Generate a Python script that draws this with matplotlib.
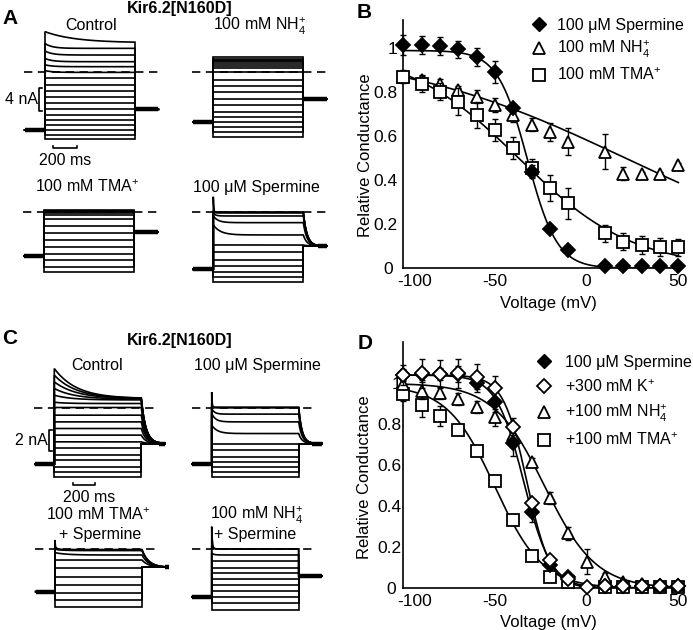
import numpy as np
import matplotlib
matplotlib.use("Agg")
import matplotlib.pyplot as plt
from matplotlib.lines import Line2D
from matplotlib.transforms import ScaledTranslation

plt.rcParams['font.family'] = ['Liberation Sans', 'DejaVu Sans']
plt.rcParams['mathtext.fontset'] = 'custom'
plt.rcParams['mathtext.rm'] = 'Liberation Sans'
plt.rcParams['mathtext.it'] = 'Liberation Sans:italic'
plt.rcParams['mathtext.bf'] = 'Liberation Sans:bold'
plt.rcParams['axes.unicode_minus'] = False
plt.rcParams['lines.scale_dashes'] = False

# ------------------------------------------------------------------ data
# Panel B : relative conductance vs voltage
volt_B = [-100, -90, -80, -70, -60, -50, -40, -30, -20, -10, 10, 20, 30, 40, 50]
B_sperm = [1.015, 1.015, 1.01, 0.995, 0.96, 0.894, 0.727, 0.44, 0.177, 0.083, 0.01, 0.01, 0.01, 0.01, 0.01]
B_sperm_err = [0.045, 0.04, 0.04, 0.04, 0.04, 0.05, 0.02, 0.03, 0.01, 0.01, 0.005, 0.005, 0.005, 0.005, 0.005]
B_nh4 = [0.87, 0.856, 0.84, 0.81, 0.78, 0.742, 0.697, 0.652, 0.62, 0.576, 0.53, 0.43, 0.427, 0.43, 0.47]
B_nh4_err = [0.02, 0.02, 0.02, 0.02, 0.03, 0.03, 0.03, 0.03, 0.04, 0.06, 0.08, 0.03, 0.01, 0.01, 0.01]
B_tma = [0.871, 0.84, 0.803, 0.758, 0.697, 0.629, 0.545, 0.455, 0.364, 0.295, 0.159, 0.121, 0.106, 0.098, 0.095]
B_tma_err = [0.03, 0.04, 0.04, 0.06, 0.06, 0.05, 0.05, 0.04, 0.06, 0.07, 0.04, 0.04, 0.04, 0.04, 0.04]
# Boltzmann fit parameters (amplitude, V1/2, slope)
B_fit_sperm = (0.99, -32.3, 8.1)
B_fit_nh4 = (1.0, 21.4, 63.9)
B_fit_tma = (1.0, -37.0, 31.0)
B_labels = ['100 \u03bcM Spermine', r'$\mathrm{100\ mM\ NH}_4^{+}$', r'$\mathrm{100\ mM\ TMA}^{+}$']

# Panel D
volt_D_sp = [-100, -90, -80, -70, -60, -50, -40, -30, -20, -10, 10, 20, 30, 40, 50]
D_sp = [1.04, 1.045, 1.045, 1.045, 1.0, 0.911, 0.707, 0.374, 0.114, 0.057, 0.01, 0.01, 0.01, 0.01, 0.01]
D_sp_err = [0.03, 0.03, 0.03, 0.04, 0.04, 0.05, 0.06, 0.05, 0.02, 0.01, 0, 0, 0, 0, 0]
volt_D_k = [-100, -90, -80, -70, -60, -50, -40, -30, -20, -10, 0, 10, 20, 30, 40, 50]
D_k = [1.04, 1.049, 1.046, 1.049, 1.033, 0.976, 0.789, 0.418, 0.138, 0.045, 0.005, 0.01, 0.01, 0.01, 0.01, 0.01]
D_k_err = [0.05, 0.07, 0.07, 0.07, 0.06, 0.06, 0.04, 0.02, 0.02, 0.01, 0, 0, 0, 0, 0, 0]
volt_D_nh4 = [-100, -90, -80, -70, -60, -50, -40, -30, -20, -10, 0, 10, 20, 30, 40, 50]
D_nh4 = [0.997, 0.964, 0.951, 0.922, 0.886, 0.834, 0.748, 0.618, 0.439, 0.268, 0.13, 0.057, 0.033, 0.021, 0.016, 0.016]
D_nh4_err = [0.02, 0.04, 0.03, 0.03, 0.03, 0.04, 0.03, 0.02, 0.03, 0.03, 0.06, 0.02, 0.01, 0.01, 0.01, 0.01]
volt_D_tma = [-100, -90, -80, -70, -60, -50, -40, -30, -20, -10, 10, 20, 30, 40, 50]
D_tma = [0.946, 0.894, 0.84, 0.772, 0.672, 0.524, 0.333, 0.158, 0.057, 0.033, 0.008, 0.008, 0.008, 0.008, 0.008]
D_tma_err = [0.03, 0.06, 0.05, 0.02, 0.01, 0.01, 0.01, 0.01, 0.01, 0.01, 0, 0, 0, 0, 0]
D_fit_sp = (1.04, -34.3, 7.5)
D_fit_k = (1.04, -32.6, 6.45)
D_fit_nh4 = (1.0, -23.0, 14.0)
D_fit_tma = (0.99, -50.0, 13.0)
D_labels = ['100 \u03bcM Spermine', r'$\mathrm{+300\ mM\ K}^{+}$', r'$\mathrm{+100\ mM\ NH}_4^{+}$', r'$\mathrm{+100\ mM\ TMA}^{+}$']

# Current traces (nA, relative to zero-current level); start -> steady level, tau (ms)
A_ctrl_end = [5.04, 4.06, 2.90, 1.74, 0.87, -0.12, -1.16, -2.32, -3.30, -4.46, -5.51, -6.55, -7.54, -8.41, -9.28, -10.14, -11.01, -11.77]
A_ctrl_start = [6.96, 4.90, 3.60, 2.30, 1.20, 0.20, -1.16, -2.32, -3.30, -4.46, -5.51, -6.55, -7.54, -8.41, -9.28, -10.14, -11.01, -11.77]
A_ctrl_tau = [250, 60, 60, 60, 60, 60] + [60] * 12
A_ctrl_hold = (-10.14, -6.55, 0)

A_nh4_end = [2.49, 2.2, 2.03, 1.8, 1.62, 1.28, 0.93, 0.58, 0.0, -1.45, -2.49, -3.48, -4.81, -5.80, -6.96, -7.83, -8.70, -9.57, -10.43, -11.30]
A_nh4_start = list(A_nh4_end)
A_nh4_tau = [50] * 20
A_nh4_hold = (-8.70, -4.75, 0)

A_tma_end = [0.35, 0.25, 0.15, 0.05, -0.05, -0.46, -1.22, -2.38, -3.65, -4.81, -6.09, -7.25, -8.29, -9.45, -10.32]
A_tma_start = list(A_tma_end)
A_tma_tau = [50] * 15
A_tma_hold = (-7.59, -3.36, 0)

A_sp_end = [0.0, 0.0, 0.0, -0.1, -0.64, -1.8, -3.94, -5.68, -6.84, -8.29, -9.33, -10.32, -11.19, -12.06]
A_sp_start = [2.7, 0.3, 0.1, 0.0, -0.17, -0.64, -2.2, -5.68, -6.84, -8.29, -9.33, -10.32, -11.19, -12.06]
A_sp_tau = [4, 10, 10, 15, 20, 40, 60, 50, 50, 50, 50, 50, 50, 50]
A_sp_hold = (-9.91, -5.86, 30)

C_ctrl_end = [0.85, 0.85, 0.84, 0.80, 0.72, 0.38, 0.0, -0.73, -1.37, -2.0, -2.63, -3.27, -3.9, -4.54, -5.02, -5.65, -6.13, -6.63]
C_ctrl_start = [3.71, 3.08, 2.44, 1.81, 1.17, 0.5, 0.0, -0.73, -1.37, -2.0, -2.63, -3.27, -3.9, -4.54, -5.02, -5.65, -6.13, -6.63]
C_ctrl_tau = [200, 200, 200, 180, 150, 100] + [50] * 12
C_ctrl_hold = (-5.40, -3.43, 40)

C_sp_end = [0.0, 0.0, 0.0, -0.63, -1.37, -2.48, -3.43, -4.06, -4.70, -5.17, -5.65, -6.13, -6.6]
C_sp_start = [1.46, 0.3, 0.1, -0.1, -0.57, -1.68, -3.43, -4.06, -4.70, -5.17, -5.65, -6.13, -6.6]
C_sp_tau = [4, 10, 10, 25, 35, 50, 50, 50, 50, 50, 50, 50, 50]
C_sp_hold = (-5.40, -3.43, 30)

C_tma_end = [-0.05, -0.1, -0.15, -0.57, -1.05, -1.84, -2.63, -3.43, -4.22, -4.86, -5.49]
C_tma_start = [0.86, 0.2, 0.0, -0.35, -1.05, -1.84, -2.63, -3.43, -4.22, -4.86, -5.49]
C_tma_tau = [4, 30, 60, 100, 50, 50, 50, 50, 50, 50, 50]
C_tma_hold = (-4.06, -1.75, 60)

C_nh4_end = [0.0, 0.0, -0.57, -1.11, -1.78, -2.32, -2.89, -3.43, -4.0, -4.54, -5.17, -5.81]
C_nh4_start = [2.13, 0.3, -0.4, -1.11, -1.78, -2.32, -2.89, -3.43, -4.0, -4.54, -5.17, -5.81]
C_nh4_tau = [6, 15, 20, 50, 50, 50, 50, 50, 50, 50, 50, 50]
C_nh4_hold = (-4.54, -2.57, 0)

# ------------------------------------------------------------------ figure
W, H = 693, 630
fig = plt.figure(figsize=(W / 100, H / 100), dpi=100)
FS = 11.5


def px_axes(x0, y0, x1, y1):
    return fig.add_axes([x0 / W, 1 - y1 / H, (x1 - x0) / W, (y1 - y0) / H])


def ftext(x, y, s, **kw):
    kw.setdefault('ha', 'center')
    kw.setdefault('va', 'center')
    kw.setdefault('fontsize', FS)
    fig.text(x / W, 1 - y / H, s, **kw)


def boltz(v, p):
    a, vh, k = p
    return a / (1 + np.exp((v - vh) / k))


def trace_panel(xs, yd, pxms, pxna, T, pre_ms, post_ms, dash_end,
                starts, ends, taus, hold):
    pre, post, tail_tau = hold
    x0 = xs - pre_ms * pxms - 6
    x1 = xs + (T + post_ms) * pxms + 6
    y0, y1 = yd - 60, yd + 90
    ax = px_axes(x0, y0, x1, y1)
    ax.set_xlim((x0 - xs) / pxms, (x1 - xs) / pxms)
    ax.set_ylim((yd - y1) / pxna, (yd - y0) / pxna)
    ax.axis('off')
    for s, e, tau in zip(starts, ends, taus):
        tp = np.linspace(0, T, 300)
        lvl = e + (s - e) * np.exp(-tp / tau)
        tt = np.linspace(T, T + post_ms, 150)
        if tail_tau > 0 and lvl[-1] > post:
            tail = post + (lvl[-1] - post) * np.exp(-(tt - T) / tail_tau)
        else:
            tail = np.full_like(tt, post)
        t = np.concatenate([[-pre_ms, 0], tp, tt])
        y = np.concatenate([[pre, pre], lvl, tail])
        ax.plot(t, y, color='k', lw=1.2, solid_joinstyle='miter')
    ax.plot([-pre_ms, 0], [pre, pre], color='k', lw=3.2, solid_capstyle='butt')
    t_thick = T + (4 * tail_tau if tail_tau > 0 else 0)
    ax.plot([t_thick, T + post_ms], [post, post], color='k', lw=3.2, solid_capstyle='butt')
    ax.plot([-pre_ms - 5, T + dash_end], [0, 0], color='k', lw=1.2, dashes=(6, 4))
    return ax


# ---------------- Panel A traces
pxms_A, pxna_A, T_A = 24 / 200, 5.75, 750
axA1 = trace_panel(45, 71.7, pxms_A, pxna_A, T_A, 170, 195, 195, A_ctrl_start, A_ctrl_end, A_ctrl_tau, A_ctrl_hold)
trace_panel(213.3, 71.7, pxms_A, pxna_A, T_A, 170, 195, 195, A_nh4_start, A_nh4_end, A_nh4_tau, A_nh4_hold)
trace_panel(44.3, 212.3, pxms_A, pxna_A, T_A, 170, 195, 195, A_tma_start, A_tma_end, A_tma_tau, A_tma_hold)
trace_panel(213.3, 212.3, pxms_A, pxna_A, T_A, 170, 195, 195, A_sp_start, A_sp_end, A_sp_tau, A_sp_hold)

# scale bars A (4 nA, 200 ms)
axA1.plot([-22, -47, -47, -22], [-2.87, -2.87, -6.87, -6.87], color='k', lw=1.2, clip_on=False)
axA1.text(-57, -4.87, '4 nA', ha='right', va='center', fontsize=FS, clip_on=False)
axA1.plot([64, 64, 264, 264], [-13.0, -13.3, -13.3, -13.0], color='k', lw=1.2, clip_on=False)
axA1.text(164, -15.4, '200 ms', ha='center', va='center', fontsize=FS, clip_on=False)

# ---------------- Panel C traces
pxms_C, pxna_C, T_C = 22.3 / 200, 10.5, 780
axC1 = trace_panel(54.3, 407.5, pxms_C, pxna_C, T_C, 173, 210, 160, C_ctrl_start, C_ctrl_end, C_ctrl_tau, C_ctrl_hold)
trace_panel(211.7, 407.5, pxms_C, pxna_C, T_C, 173, 210, 160, C_sp_start, C_sp_end, C_sp_tau, C_sp_hold)
trace_panel(55, 549, pxms_C, pxna_C, T_C, 173, 210, 160, C_tma_start, C_tma_end, C_tma_tau, C_tma_hold)
trace_panel(211.7, 549, pxms_C, pxna_C, T_C, 173, 210, 160, C_nh4_start, C_nh4_end, C_nh4_tau, C_nh4_hold)

axC1.plot([-18, -45, -45, -18], [-2.14, -2.14, -4.14, -4.14], color='k', lw=1.2, clip_on=False)
axC1.text(-63, -3.14, '2 nA', ha='right', va='center', fontsize=FS, clip_on=False)
axC1.plot([165, 165, 365, 365], [-7.15, -7.38, -7.38, -7.15], color='k', lw=1.2, clip_on=False)
axC1.text(311, -8.55, '200 ms', ha='center', va='center', fontsize=FS, clip_on=False)

# ---------------- texts on trace panels
ftext(180, 8, 'Kir6.2[N160D]', fontweight='bold')
ftext(91, 26, 'Control')
ftext(260, 26, r'$\mathrm{100\ mM\ NH}_4^{+}$')
ftext(87, 187, r'$\mathrm{100\ mM\ TMA}^{+}$')
ftext(256, 187, '100 \u03bcM Spermine')
ftext(180, 340, 'Kir6.2[N160D]', fontweight='bold')
ftext(97, 365, 'Control')
ftext(257, 365, '100 \u03bcM Spermine')
ftext(98, 515, r'$\mathrm{100\ mM\ TMA}^{+}$')
ftext(100, 534, '+ Spermine')
ftext(257, 515, r'$\mathrm{100\ mM\ NH}_4^{+}$')
ftext(255, 534, '+ Spermine')

for lab, (x, y) in zip('ABCD', [(10, 19), (364, 12), (10, 338), (365, 344)]):
    ftext(x, y, lab, fontsize=15, fontweight='bold')


# ---------------- conductance panels
def style_axes(ax, ylim, pad_y):
    ax.set_xlim(-100, 51.5)
    ax.set_ylim(*ylim)
    for sp in ['top', 'right']:
        ax.spines[sp].set_visible(False)
    for sp in ['left', 'bottom']:
        ax.spines[sp].set_linewidth(1.2)
    ax.set_xticks([-100, -50, 0, 50])
    ax.set_xticklabels(['-100', '-50', '0', '50'])
    ax.set_yticks([0, 0.2, 0.4, 0.6, 0.8, 1.0])
    ax.set_yticklabels(['0', '0.2', '0.4', '0.6', '0.8', '1'])
    ax.tick_params(axis='x', length=0, pad=4, labelsize=12.5)
    ax.tick_params(axis='y', length=0, pad=pad_y, labelsize=12.5)
    lab0 = ax.xaxis.get_major_ticks()[0].label1
    lab0.set_transform(lab0.get_transform() + ScaledTranslation(11 / 100, 0, fig.dpi_scale_trans))
    lab_y0 = ax.yaxis.get_major_ticks()[0].label1
    lab_y0.set_transform(lab_y0.get_transform() + ScaledTranslation(-5 / 100, 0, fig.dpi_scale_trans))
    ax.patch.set_alpha(0)


def series(ax, x, y, err, marker, filled, ms, z):
    ax.errorbar(x, y, yerr=err, fmt='none', ecolor='k', elinewidth=1.0, capsize=2, capthick=1.0, zorder=z - 0.5, clip_on=False)
    ax.plot(x, y, ls='none', marker=marker, ms=ms, mfc='k' if filled else 'white', mec='k', mew=1.3, zorder=z, clip_on=False)


vfit = np.linspace(-100, 50, 400)

axB = px_axes(403.3, 268.3 - 1.13 * 220, 403.3 + 151.5 * 1.8333, 268.3)
style_axes(axB, (0, 1.13), 4)
for p in (B_fit_sperm, B_fit_nh4, B_fit_tma):
    axB.plot(vfit, boltz(vfit, p), color='k', lw=1.2, zorder=2)
series(axB, volt_B, B_nh4, B_nh4_err, '^', False, 9, 3)
series(axB, volt_B, B_tma, B_tma_err, 's', False, 9, 4)
series(axB, volt_B, B_sperm, B_sperm_err, 'D', True, 7, 5)
hB = [Line2D([], [], ls='none', marker='D', ms=7, mfc='k', mec='k'),
      Line2D([], [], ls='none', marker='^', ms=9, mfc='white', mec='k', mew=1.3),
      Line2D([], [], ls='none', marker='s', ms=9, mfc='white', mec='k', mew=1.3)]
axB.legend(hB, B_labels, loc='upper left', bbox_to_anchor=(530 / W, 1 - 18 / H), bbox_transform=fig.transFigure,
           frameon=False, fontsize=FS, handlelength=1.1, handletextpad=0.6, labelspacing=0.4, borderpad=0, borderaxespad=0)
ftext(548, 303, 'Voltage (mV)', fontsize=12)
ftext(366, 155, 'Relative Conductance', rotation=90, fontsize=12)

axD = px_axes(403.3, 588.3 - 1.2 * 205, 403.3 + 151.5 * 1.8333, 588.3)
style_axes(axD, (0, 1.2), 1.5)
for p in (D_fit_sp, D_fit_k, D_fit_nh4, D_fit_tma):
    axD.plot(vfit, boltz(vfit, p), color='k', lw=1.2, zorder=2)
series(axD, volt_D_tma, D_tma, D_tma_err, 's', False, 9, 3)
series(axD, volt_D_nh4, D_nh4, D_nh4_err, '^', False, 9, 4)
series(axD, volt_D_sp, D_sp, D_sp_err, 'D', True, 7, 5)
series(axD, volt_D_k, D_k, D_k_err, 'D', False, 7, 6)
hD = [Line2D([], [], ls='none', marker='D', ms=7, mfc='k', mec='k'),
      Line2D([], [], ls='none', marker='D', ms=7, mfc='white', mec='k', mew=1.3),
      Line2D([], [], ls='none', marker='^', ms=9, mfc='white', mec='k', mew=1.3),
      Line2D([], [], ls='none', marker='s', ms=9, mfc='white', mec='k', mew=1.3)]
axD.legend(hD, D_labels, loc='upper left', bbox_to_anchor=(535 / W, 1 - 355 / H), bbox_transform=fig.transFigure,
           frameon=False, fontsize=FS, handlelength=1.1, handletextpad=0.8, labelspacing=0.5, borderpad=0, borderaxespad=0)
ftext(548, 622, 'Voltage (mV)', fontsize=12)
ftext(364, 477, 'Relative Conductance', rotation=90, fontsize=12)

fig.savefig('out.png', dpi=100)
